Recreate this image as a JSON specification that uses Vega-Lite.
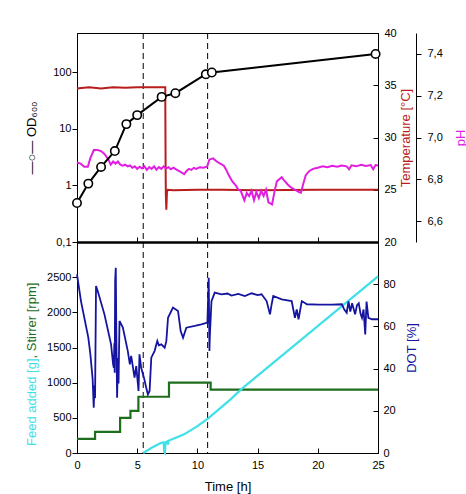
{
  "$schema": "https://vega.github.io/schema/vega-lite/v6.json",
  "padding": {"left": 24, "top": 26, "right": 8, "bottom": 0},
  "bounds": "flush",
  "spacing": 0,
  "datasets": {
    "events": [{"t": 5.5}, {"t": 10.85}],
    "od": [
      {"t": 0, "od": 0.49}, {"t": 0.94, "od": 1.08}, {"t": 2.0, "od": 2.13},
      {"t": 3.14, "od": 4.07}, {"t": 4.1, "od": 12.2}, {"t": 5.0, "od": 17.6},
      {"t": 7.03, "od": 37}, {"t": 8.17, "od": 43}, {"t": 10.7, "od": 93},
      {"t": 11.2, "od": 100}, {"t": 24.8, "od": 213}
    ],
    "temp": [
      {"t": 0, "temp": 34.7}, {"t": 1, "temp": 34.8}, {"t": 2, "temp": 34.7},
      {"t": 3, "temp": 34.8}, {"t": 4, "temp": 34.75}, {"t": 5, "temp": 34.8},
      {"t": 6, "temp": 34.8}, {"t": 7.33, "temp": 34.8}, {"t": 7.36, "temp": 27},
      {"t": 7.38, "temp": 24.5}, {"t": 7.42, "temp": 23.1}, {"t": 7.47, "temp": 24.8},
      {"t": 7.55, "temp": 25.0}, {"t": 8, "temp": 24.95}, {"t": 10, "temp": 25},
      {"t": 12, "temp": 25}, {"t": 15, "temp": 24.95}, {"t": 20, "temp": 25},
      {"t": 25, "temp": 25}
    ],
    "ph": [
      {"t": 0, "ph": 6.88}, {"t": 0.3, "ph": 6.875}, {"t": 0.6, "ph": 6.86},
      {"t": 0.9, "ph": 6.86}, {"t": 1.1, "ph": 6.9}, {"t": 1.4, "ph": 6.94},
      {"t": 1.7, "ph": 6.94}, {"t": 2.0, "ph": 6.935}, {"t": 2.3, "ph": 6.92},
      {"t": 2.6, "ph": 6.895}, {"t": 2.8, "ph": 6.87}, {"t": 3.0, "ph": 6.885},
      {"t": 3.2, "ph": 6.875}, {"t": 3.4, "ph": 6.885}, {"t": 3.6, "ph": 6.87},
      {"t": 3.8, "ph": 6.865}, {"t": 4.0, "ph": 6.87}, {"t": 4.2, "ph": 6.862},
      {"t": 4.4, "ph": 6.866}, {"t": 4.6, "ph": 6.855}, {"t": 4.8, "ph": 6.862},
      {"t": 5.0, "ph": 6.85}, {"t": 5.2, "ph": 6.86}, {"t": 5.4, "ph": 6.852},
      {"t": 5.6, "ph": 6.862}, {"t": 5.8, "ph": 6.845}, {"t": 6.0, "ph": 6.858},
      {"t": 6.2, "ph": 6.85}, {"t": 6.4, "ph": 6.862}, {"t": 6.6, "ph": 6.846},
      {"t": 6.8, "ph": 6.858}, {"t": 7.0, "ph": 6.85}, {"t": 7.2, "ph": 6.862},
      {"t": 7.4, "ph": 6.852}, {"t": 7.6, "ph": 6.858}, {"t": 7.8, "ph": 6.848},
      {"t": 8.0, "ph": 6.856}, {"t": 8.3, "ph": 6.845}, {"t": 8.6, "ph": 6.835},
      {"t": 8.9, "ph": 6.825}, {"t": 9.1, "ph": 6.84}, {"t": 9.3, "ph": 6.85},
      {"t": 9.5, "ph": 6.845}, {"t": 9.7, "ph": 6.855}, {"t": 9.9, "ph": 6.85},
      {"t": 10.2, "ph": 6.858}, {"t": 10.5, "ph": 6.855}, {"t": 10.8, "ph": 6.86},
      {"t": 11.0, "ph": 6.895}, {"t": 11.3, "ph": 6.9}, {"t": 11.6, "ph": 6.885},
      {"t": 11.9, "ph": 6.875}, {"t": 12.2, "ph": 6.865}, {"t": 12.4, "ph": 6.845},
      {"t": 12.6, "ph": 6.82}, {"t": 12.9, "ph": 6.79}, {"t": 13.2, "ph": 6.77},
      {"t": 13.4, "ph": 6.75}, {"t": 13.6, "ph": 6.745}, {"t": 13.9, "ph": 6.7},
      {"t": 14.1, "ph": 6.735}, {"t": 14.3, "ph": 6.72}, {"t": 14.5, "ph": 6.745},
      {"t": 14.7, "ph": 6.7}, {"t": 14.9, "ph": 6.74}, {"t": 15.1, "ph": 6.71},
      {"t": 15.3, "ph": 6.745}, {"t": 15.5, "ph": 6.72}, {"t": 15.7, "ph": 6.75},
      {"t": 15.9, "ph": 6.69}, {"t": 16.2, "ph": 6.68}, {"t": 16.4, "ph": 6.74},
      {"t": 16.6, "ph": 6.79}, {"t": 16.8, "ph": 6.8}, {"t": 17.0, "ph": 6.81},
      {"t": 17.2, "ph": 6.795}, {"t": 17.5, "ph": 6.775}, {"t": 17.8, "ph": 6.76},
      {"t": 18.1, "ph": 6.75}, {"t": 18.4, "ph": 6.74}, {"t": 18.6, "ph": 6.736},
      {"t": 18.8, "ph": 6.78}, {"t": 19.0, "ph": 6.82}, {"t": 19.3, "ph": 6.84},
      {"t": 19.6, "ph": 6.85}, {"t": 20.0, "ph": 6.855}, {"t": 20.4, "ph": 6.862},
      {"t": 20.8, "ph": 6.858}, {"t": 21.2, "ph": 6.865}, {"t": 21.6, "ph": 6.86},
      {"t": 22.0, "ph": 6.866}, {"t": 22.4, "ph": 6.862}, {"t": 22.6, "ph": 6.848},
      {"t": 22.8, "ph": 6.867}, {"t": 23.2, "ph": 6.862}, {"t": 23.6, "ph": 6.869},
      {"t": 24.0, "ph": 6.864}, {"t": 24.4, "ph": 6.868}, {"t": 24.6, "ph": 6.848},
      {"t": 24.8, "ph": 6.868}, {"t": 25.0, "ph": 6.866}
    ],
    "stirrer": [
      {"t": 0, "rpm": 200}, {"t": 1.5, "rpm": 300}, {"t": 3.58, "rpm": 500},
      {"t": 4.44, "rpm": 600}, {"t": 5.1, "rpm": 800}, {"t": 7.64, "rpm": 1000},
      {"t": 11.1, "rpm": 900}, {"t": 25, "rpm": 900}
    ],
    "feed": [
      {"t": 5.5, "g": 0}, {"t": 6.2, "g": 75}, {"t": 7.0, "g": 146},
      {"t": 7.2, "g": 150}, {"t": 7.25, "g": 10}, {"t": 7.3, "g": 0},
      {"t": 7.35, "g": 150}, {"t": 7.5, "g": 165}, {"t": 7.55, "g": 120},
      {"t": 7.6, "g": 175}, {"t": 8.9, "g": 265}, {"t": 10.0, "g": 383},
      {"t": 10.9, "g": 493}, {"t": 12.8, "g": 770}, {"t": 13.7, "g": 915},
      {"t": 25, "g": 2510}
    ],
    "dot": [
      {"t": 0, "dot": 84.7}, {"t": 0.33, "dot": 72}, {"t": 0.94, "dot": 54.7},
      {"t": 1.11, "dot": 46.8}, {"t": 1.3, "dot": 35}, {"t": 1.39, "dot": 21.5},
      {"t": 1.45, "dot": 32}, {"t": 1.5, "dot": 26}, {"t": 1.58, "dot": 79.1},
      {"t": 1.72, "dot": 76.8}, {"t": 2.28, "dot": 65.7}, {"t": 2.83, "dot": 51.5},
      {"t": 3.0, "dot": 42}, {"t": 3.06, "dot": 40.4}, {"t": 3.1, "dot": 52},
      {"t": 3.13, "dot": 38}, {"t": 3.17, "dot": 81.5}, {"t": 3.22, "dot": 87.8},
      {"t": 3.27, "dot": 55}, {"t": 3.33, "dot": 26.2}, {"t": 3.4, "dot": 45},
      {"t": 3.45, "dot": 33}, {"t": 3.53, "dot": 62.6}, {"t": 3.81, "dot": 59.4},
      {"t": 4.22, "dot": 48.3}, {"t": 4.39, "dot": 42}, {"t": 4.5, "dot": 46},
      {"t": 4.78, "dot": 35.7}, {"t": 4.92, "dot": 41.2}, {"t": 5.11, "dot": 29.4},
      {"t": 5.19, "dot": 46.8}, {"t": 5.33, "dot": 40.4}, {"t": 5.56, "dot": 35.7},
      {"t": 5.75, "dot": 30.9}, {"t": 5.89, "dot": 27.8}, {"t": 6.03, "dot": 29.4},
      {"t": 6.17, "dot": 45.2}, {"t": 6.44, "dot": 48.3}, {"t": 6.67, "dot": 53.1},
      {"t": 6.8, "dot": 51}, {"t": 7.0, "dot": 51.5}, {"t": 7.28, "dot": 49.9},
      {"t": 7.42, "dot": 53}, {"t": 7.56, "dot": 64.1}, {"t": 7.97, "dot": 68.9},
      {"t": 8.39, "dot": 67.3}, {"t": 8.61, "dot": 57.8}, {"t": 8.81, "dot": 54.6},
      {"t": 9.08, "dot": 59.4}, {"t": 9.78, "dot": 60.2}, {"t": 10.33, "dot": 61},
      {"t": 10.83, "dot": 61.8}, {"t": 10.94, "dot": 83.1}, {"t": 11.0, "dot": 48.3},
      {"t": 11.03, "dot": 55}, {"t": 11.17, "dot": 72}, {"t": 11.44, "dot": 76},
      {"t": 12.0, "dot": 75.2}, {"t": 12.5, "dot": 75.6}, {"t": 12.83, "dot": 74.6},
      {"t": 13.4, "dot": 75.4}, {"t": 13.94, "dot": 74.4}, {"t": 14.5, "dot": 75.7},
      {"t": 15.0, "dot": 74.8}, {"t": 15.33, "dot": 75.2}, {"t": 15.75, "dot": 72},
      {"t": 16.03, "dot": 65.7}, {"t": 16.15, "dot": 70}, {"t": 16.3, "dot": 74.4},
      {"t": 17.0, "dot": 72.8}, {"t": 17.83, "dot": 72}, {"t": 18.1, "dot": 64.1},
      {"t": 18.25, "dot": 68}, {"t": 18.4, "dot": 63.4}, {"t": 18.67, "dot": 72},
      {"t": 19.1, "dot": 70.5}, {"t": 20.06, "dot": 70.3}, {"t": 21.17, "dot": 70.3},
      {"t": 22.0, "dot": 70.5}, {"t": 22.2, "dot": 68}, {"t": 22.4, "dot": 66.5},
      {"t": 22.55, "dot": 71.8}, {"t": 22.7, "dot": 67}, {"t": 22.85, "dot": 71},
      {"t": 23.1, "dot": 65.7}, {"t": 23.25, "dot": 70}, {"t": 23.4, "dot": 71},
      {"t": 23.55, "dot": 66}, {"t": 23.67, "dot": 64.1}, {"t": 23.8, "dot": 68},
      {"t": 23.94, "dot": 56.2}, {"t": 24.05, "dot": 71.8}, {"t": 24.2, "dot": 64},
      {"t": 24.5, "dot": 63.4}, {"t": 25, "dot": 63.4}
    ]
  },
  "vconcat": [
    {
      "width": 301,
      "height": 209,
      "encoding": {
        "x": {
          "field": "t", "type": "quantitative",
          "scale": {"domain": [0, 25], "nice": false},
          "axis": {"labels": false, "title": null, "values": [0, 5, 10, 15, 20, 25], "tickSize": -5, "domainWidth": 2.5}
        }
      },
      "layer": [
        {
          "data": {"name": "events"},
          "mark": {"type": "rule", "color": "black", "strokeWidth": 1, "strokeDash": [6, 4]},
          "encoding": {}
        },
        {
          "data": {"name": "temp"},
          "mark": {"type": "line", "color": "#b81c1c", "strokeWidth": 2},
          "encoding": {
            "y": {
              "field": "temp", "type": "quantitative",
              "scale": {"domain": [20, 40], "nice": false, "zero": false},
              "axis": {
                "orient": "right", "values": [20, 25, 30, 35, 40], "format": "d",
                "tickSize": -5, "labelPadding": 11,
                "title": "Temperature [°C]", "titleColor": "#b81c1c",
                "titleAngle": 270, "titleX": 31, "titleY": 104.5,
                "titleAlign": "center", "titleBaseline": "alphabetic"
              }
            }
          }
        },
        {
          "data": {"name": "ph"},
          "mark": {"type": "line", "color": "#e11ee1", "strokeWidth": 2},
          "encoding": {
            "y": {
              "field": "ph", "type": "quantitative",
              "scale": {"domain": [6.5, 7.5], "nice": false, "zero": false},
              "axis": {
                "orient": "right", "offset": 38, "values": [6.6, 6.8, 7.0, 7.2, 7.4], "format": ".1f",
                "tickSize": 5, "labelPadding": 6,
                "title": "pH", "titleColor": "#e11ee1",
                "titleAngle": 270, "titleX": 48, "titleY": 104.5,
                "titleAlign": "center", "titleBaseline": "alphabetic"
              }
            }
          }
        },
        {
          "data": {"name": "od"},
          "mark": {
            "type": "line", "color": "black", "strokeWidth": 2,
            "point": {"filled": true, "fill": "white", "stroke": "black", "strokeWidth": 1.6, "size": 70}
          },
          "encoding": {
            "y": {
              "field": "od", "type": "quantitative",
              "scale": {"type": "log", "domain": [0.1, 500], "nice": false},
              "axis": {
                "orient": "left", "values": [0.1, 1, 10, 100], "format": "~g",
                "tickSize": 5, "labelPadding": 1,
                "title": "—○— OD₆₀₀",
                "titleAngle": 270, "titleX": -42, "titleY": 104.5,
                "titleAlign": "center", "titleBaseline": "alphabetic"
              }
            }
          }
        }
      ],
      "resolve": {"scale": {"y": "independent"}}
    },
    {
      "width": 301,
      "height": 211,
      "encoding": {
        "x": {
          "field": "t", "type": "quantitative",
          "scale": {"domain": [0, 25], "nice": false},
          "axis": {
            "values": [0, 5, 10, 15, 20, 25], "tickSize": -5, "labelPadding": 11, "labelFlush": false,
            "title": "Time [h]", "titleX": 150.5, "titleY": 37, "titleBaseline": "alphabetic"
          }
        }
      },
      "layer": [
        {
          "data": {"name": "events"},
          "mark": {"type": "rule", "color": "black", "strokeWidth": 1, "strokeDash": [6, 4]},
          "encoding": {}
        },
        {
          "data": {"name": "stirrer"},
          "mark": {"type": "line", "color": "#1e6e1e", "strokeWidth": 2.2, "interpolate": "step-after"},
          "encoding": {
            "y": {
              "field": "rpm", "type": "quantitative",
              "scale": {"domain": [0, 3000], "nice": false},
              "axis": {
                "orient": "left", "values": [0, 500, 1000, 1500, 2000, 2500], "format": "d",
                "tickSize": 5, "labelPadding": 1,
                "title": ", Stirrer [rpm]", "titleColor": "#1e6e1e",
                "titleAngle": 270, "titleX": -42, "titleY": 116,
                "titleAlign": "left", "titleBaseline": "alphabetic"
              }
            }
          }
        },
        {
          "data": {"name": "feed"},
          "mark": {"type": "line", "color": "#40e0e8", "strokeWidth": 2.2},
          "encoding": {
            "y": {
              "field": "g", "type": "quantitative",
              "scale": {"domain": [0, 3000], "nice": false},
              "axis": {
                "orient": "left", "labels": false, "ticks": false, "domain": false,
                "title": "Feed added [g]", "titleColor": "#40e0e8",
                "titleAngle": 270, "titleX": -42, "titleY": 116,
                "titleAlign": "right", "titleBaseline": "alphabetic"
              }
            }
          }
        },
        {
          "data": {"name": "dot"},
          "mark": {"type": "line", "color": "#1414a0", "strokeWidth": 1.8},
          "encoding": {
            "y": {
              "field": "dot", "type": "quantitative",
              "scale": {"domain": [0, 100], "nice": false},
              "axis": {
                "orient": "right", "values": [0, 20, 40, 60, 80], "format": "d",
                "tickSize": -5, "labelPadding": 10,
                "title": "DOT [%]", "titleColor": "#1414a0",
                "titleAngle": 270, "titleX": 37, "titleY": 105.5,
                "titleAlign": "center", "titleBaseline": "alphabetic"
              }
            }
          }
        }
      ],
      "resolve": {"scale": {"y": "independent"}}
    }
  ],
  "config": {
    "view": {"stroke": "black", "strokeWidth": 1},
    "axis": {
      "grid": false,
      "domainColor": "black", "domainWidth": 1,
      "tickColor": "black", "tickWidth": 1,
      "labelColor": "black", "labelFont": "Liberation Sans", "labelFontSize": 11,
      "titleColor": "black", "titleFont": "Liberation Sans", "titleFontSize": 13, "titleFontWeight": "normal"
    },
    "locale": {
      "number": {"decimal": ",", "thousands": ".", "grouping": [3], "currency": ["", ""]}
    }
  }
}
